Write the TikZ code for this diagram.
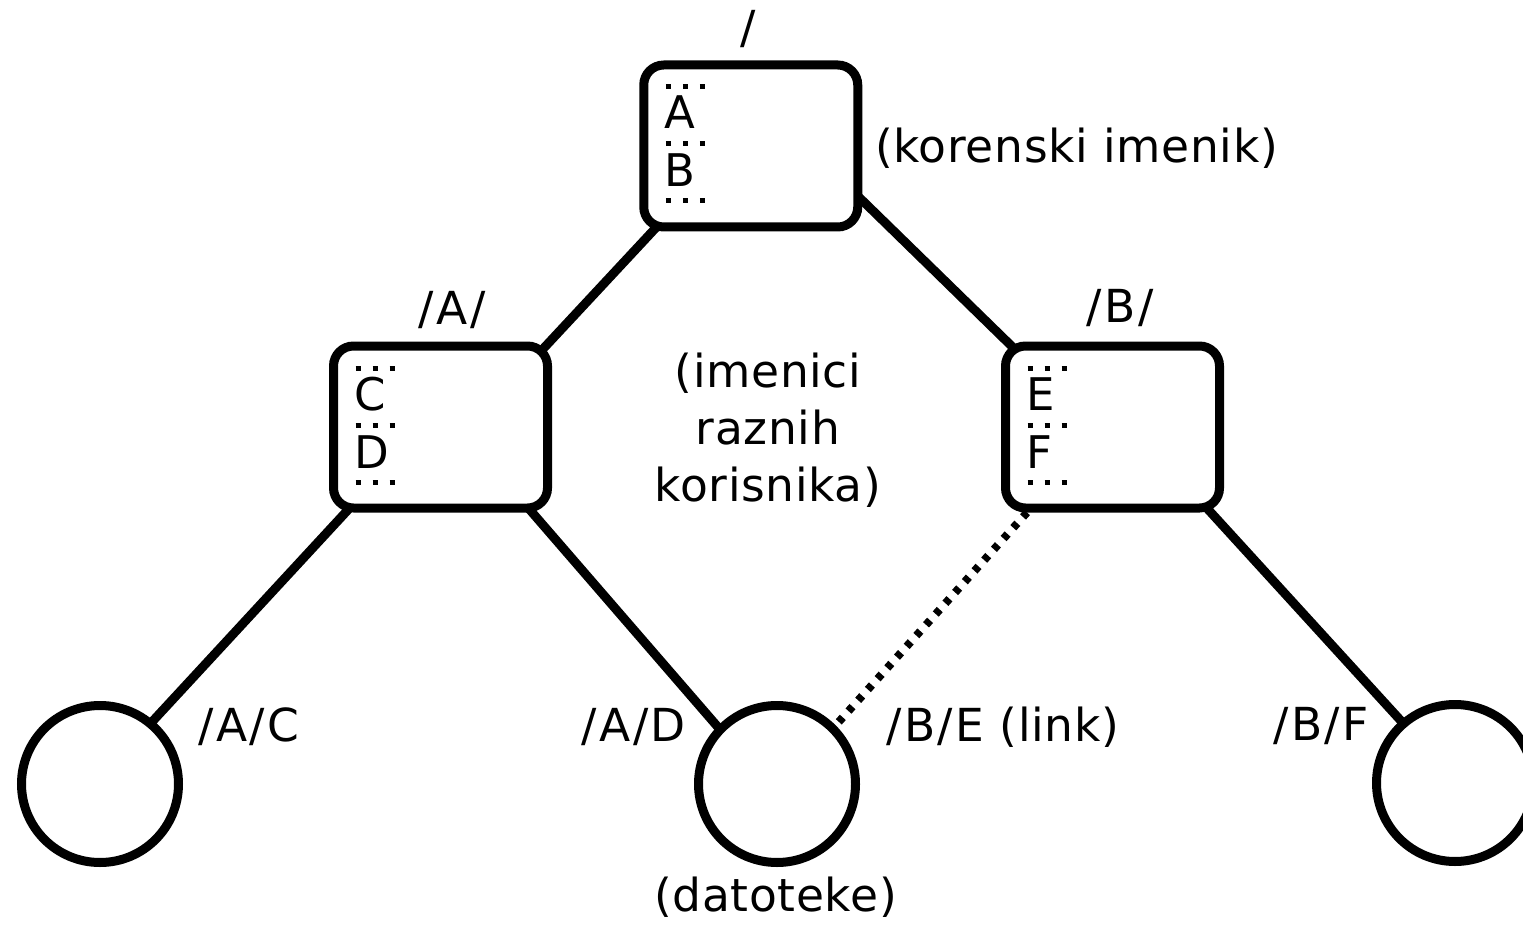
\documentclass[tikz,border=0pt]{standalone}
\usepackage{fontspec}
\setmainfont{DejaVu Sans}[LetterSpace=1.5]
\usetikzlibrary{calc}
\pgfdeclarelayer{bg}
\pgfsetlayers{bg,main}
\newcommand\fsl{\kern2.5pt/\kern2.5pt}
\newcommand\dirlisting[3]{%
  \draw[dotrow] ($(#1.north west)+(26.5,26.5)$) -- ++(39,0);
  \draw[dotrow] ($(#1.north west)+(26.5,83.5)$) -- ++(39,0);
  \draw[dotrow] ($(#1.north west)+(26.5,140.5)$) -- ++(39,0);
  \node[entry] (#1-e1) at ($(#1.north west)+(25.5,68.5)$) {#2};
  \node[entry] (#1-e2) at ($(#1.north west)+(25.5,126.5)$) {#3};
}
\begin{document}
\begin{tikzpicture}[x=1pt,y=-1pt,
  dirbox/.style={draw, line width=9pt, rounded corners=20pt, fill=white,
    minimum width=214pt, minimum height=162pt, inner sep=0pt},
  filenode/.style={circle, draw, line width=9pt, fill=white,
    minimum size=157pt, inner sep=0pt},
  link/.style={line width=9pt, shorten <=-12pt, shorten >=-12pt},
  symlink/.style={line width=8pt, dash pattern=on 6pt off 8.5pt},
  lbl/.style={font=\fontsize{45.5}{57}\selectfont, inner sep=0pt, anchor=base},
  entry/.style={font=\fontsize{45}{57}\selectfont, inner sep=0pt, anchor=base west},
  dotrow/.style={line width=5pt, dash pattern=on 5pt off 12pt}]
\useasboundingbox (0,0) rectangle (1523,925);

\node[dirbox] (root) at (750.75,146) {};
\node[dirbox] (A) at (440.5,427) {};
\node[dirbox] (B) at (1112.5,427) {};
\node[filenode] (fC) at (100,784) {};
\node[filenode] (fD) at (777,784) {};
\node[filenode] (fF) at (1455,783) {};

\dirlisting{root}{A}{B}
\dirlisting{A}{C}{D}
\dirlisting{B}{E}{F}

\begin{pgfonlayer}{bg}
\draw[link] (root.-139.1) -- (A.38.4);
\draw[link] (root.-26.8) -- (B.141.5);
\draw[link] (A.-138.3) -- (fC.50.9);
\draw[link] (A.-43.5) -- (fD.136);
\draw[symlink] (B.-135.7) -- (fD.45.5);
\draw[link] (B.-41.1) -- (fF.131);
\end{pgfonlayer}

\node[lbl] (lroot) at (748,44) {/};
\node[lbl] (lrootc) at (1076.5,163) {(korenski imenik)};
\node[lbl] (lA) at (452,324) {\fsl A\fsl};
\node[lbl] (lB) at (1120,323) {\fsl B\fsl};
\node[lbl, anchor=center, align=center] (lusers) at (768,430) {(imenici\\raznih\\korisnika)};
\node[lbl] (lAC) at (247.5,741) {\fsl A\fsl C};
\node[lbl] (lAD) at (632.5,741) {\fsl A\fsl D};
\node[lbl] (lBE) at (1001.5,741) {\fsl B\fsl E (link)};
\node[lbl] (lBF) at (1320,740) {\fsl B\fsl F};
\node[lbl] (ldat) at (775.5,911) {(datoteke)};
\end{tikzpicture}
\end{document}
